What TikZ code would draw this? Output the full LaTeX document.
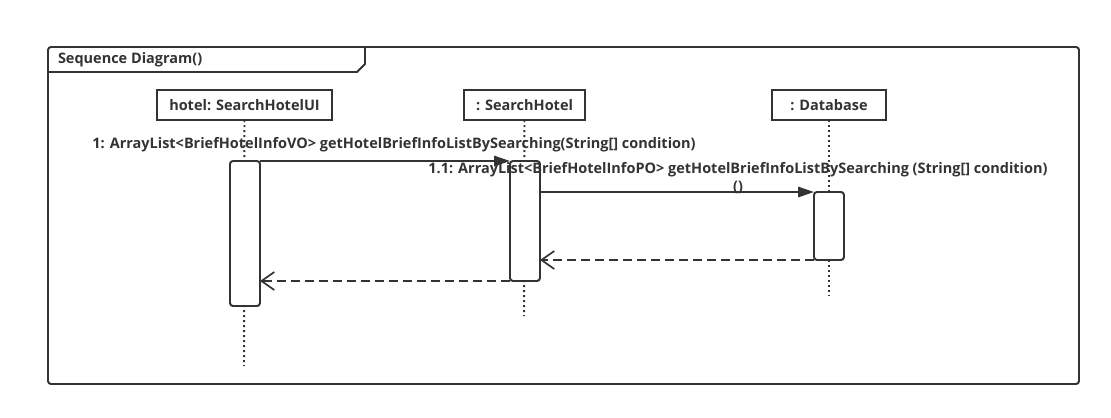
\documentclass[tikz,border=0pt]{standalone}
\usepackage{fontspec}
\setmainfont{Open Sans}
\usepackage{tikz}
\usetikzlibrary{positioning}
\usetikzlibrary{arrows.meta,calc}
\definecolor{umlgray}{HTML}{333333}
\tikzset{
    % message arrow tip
    >={Triangle[length=0.4cm,width=0.26cm]},
    % call and return styles
    msg/.style={
           ->,
           line width=1.4pt,
           draw=umlgray},
    ret/.style={
           -{Straight Barb[length=0.32cm,width=0.45cm,line width=1.2pt]},
           line width=1.4pt,
           draw=umlgray,
           dash pattern=on 0.22cm off 0.13cm}
}
\newcommand{\pxunit}{0.025cm}
\newcommand{\msgfont}{\fontsize{10.3}{12.5}\selectfont\bfseries}

\begin{document}
\begin{tikzpicture}[x=0.025cm, y=-0.025cm, outer sep=0pt, inner sep=0pt]
\tikzstyle{head}=[ draw=umlgray, line width=1.4pt,
                  rectangle, fill=white,
                  minimum height=30*\pxunit,
                  font=\msgfont, text=umlgray,
                  anchor=north west]
\tikzstyle{act}=[ draw=umlgray, line width=1.4pt,
                  rectangle, rounded corners=3*\pxunit, fill=white,
                  minimum width=30*\pxunit,
                  anchor=north west]
\tikzstyle{life}=[ draw=umlgray, line width=1.4pt,
                  dash pattern=on 0.05cm off 0.075cm]
\tikzstyle{lab}=[ font=\msgfont, text=umlgray]

\useasboundingbox (0,0) rectangle (1111,417);

% frame
\draw[umlgray, line width=1.4pt, rounded corners=3*\pxunit] (48,47) rectangle (1079,384);
\draw[umlgray, line width=1.4pt] (48,72) -- (357,72) -- (365,64) -- (365,47);
\node[lab, anchor=west] (title) at (58,60) {Sequence Diagram()};

% lifeline heads
\node[head, minimum width=175*\pxunit] (headui) at (157,90) {hotel: SearchHotelUI};
\node[head, minimum width=121*\pxunit] (headhs) at (464,90) {: SearchHotel};
\node[head, minimum width=114*\pxunit] (headdb) at (772,90) {: Database};

% lifeline ends
\coordinate (endui) at (244,366);
\coordinate (endhs) at (524,316);
\coordinate (enddb) at (829,296);

\draw[life] (headui.south) -- (endui);
\draw[life] (headhs.south) -- (endhs);
\draw[life] (headdb.south) -- (enddb);

% activations
\node[act, minimum height=145*\pxunit] (actui) at (230,161) {};
\node[act, minimum height=120*\pxunit] (acths) at (510,161) {};
\node[act, minimum height=68*\pxunit]  (actdb) at (814,192) {};

% messages
\draw[msg] (actui.north east) -- (acths.north west);
\node[lab] (lab1) at (394,145) {1: ArrayList<BriefHotelInfoVO> getHotelBriefInfoListBySearching(String[] condition)};

\draw[msg] (acths.east |- actdb.north) -- (actdb.north west);
\node[lab, align=center] (lab11) at (738,178) {1.1: ArrayList<BriefHotelInfoPO> getHotelBriefInfoListBySearching (String[] condition)\\()};

\draw[ret] (actdb.south west) -- (acths.east |- actdb.south);
\draw[ret] (acths.south west) -- (actui.east |- acths.south);

\end{tikzpicture}
\end{document}
